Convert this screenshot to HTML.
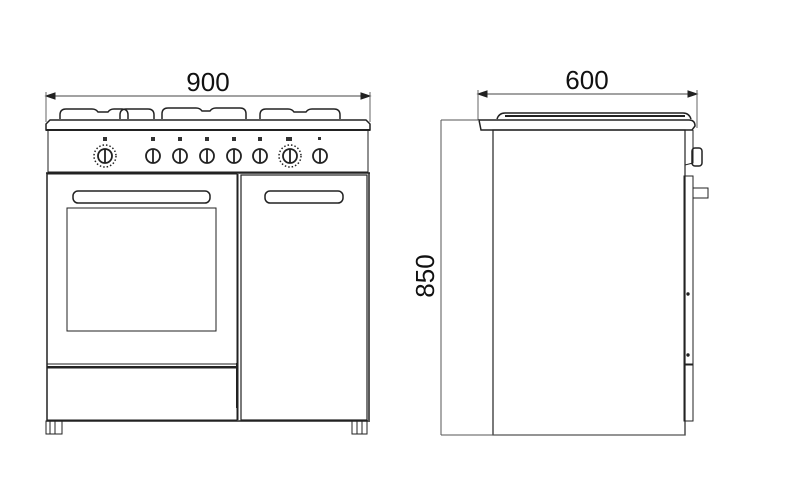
<!DOCTYPE html>
<html><head><meta charset="utf-8"><style>html,body{margin:0;padding:0;background:#fff;width:800px;height:493px;overflow:hidden}</style></head>
<body>
<svg width="800" height="493" viewBox="0 0 800 493" xmlns="http://www.w3.org/2000/svg" fill="none" stroke="#222" stroke-width="1">
<!-- FRONT VIEW -->
<text x="208" y="91" font-family="Liberation Sans, sans-serif" font-size="26" fill="#111" stroke="none" text-anchor="middle">900</text>
<line x1="46" y1="96" x2="370" y2="96" stroke="#444"/>
<path d="M46 96 l9 -3 v6 z M370 96 l-9 -3 v6 z" fill="#222"/>
<line x1="46" y1="92" x2="46" y2="122" stroke="#666"/>
<line x1="370" y1="92" x2="370" y2="122" stroke="#666"/>
<g stroke-width="1.5">
<path d="M60 119 v-4 q0 -6 6 -6 h26 q4 0 6 3 h10 q2 -3 6 -3 h8 q6 0 6 6 v4"/>
<path d="M120 119 v-4 q0 -6 6 -6 h22 q6 0 6 6 v4"/>
<path d="M162 119 v-5 q0 -6 6 -6 h28 q4 0 6 3 h8 q2 -3 6 -3 h24 q6 0 6 6 v5"/>
<path d="M260 119 v-4 q0 -6 6 -6 h22 q4 0 6 3 h12 q2 -3 6 -3 h22 q6 0 6 6 v4"/>
</g>
<path d="M50 120 h316 l4 4 v6 h-324 v-6 z" stroke-width="1.5"/>
<line x1="46" y1="130" x2="370" y2="130" stroke-width="2"/>
<path d="M48 130 v42 h320 v-42"/>
<line x1="46" y1="173" x2="370" y2="173" stroke-width="1.5"/>
<g stroke-width="1.8">
<circle cx="105" cy="156" r="7"/><line x1="105" y1="149" x2="105" y2="163"/>
<circle cx="153" cy="156" r="7"/><line x1="153" y1="149" x2="153" y2="163"/>
<circle cx="180" cy="156" r="7"/><line x1="180" y1="149" x2="180" y2="163"/>
<circle cx="207" cy="156" r="7"/><line x1="207" y1="149" x2="207" y2="163"/>
<circle cx="234" cy="156" r="7"/><line x1="234" y1="149" x2="234" y2="163"/>
<circle cx="260" cy="156" r="7"/><line x1="260" y1="149" x2="260" y2="163"/>
<circle cx="290" cy="156" r="7"/><line x1="290" y1="149" x2="290" y2="163"/>
<circle cx="320" cy="156" r="7"/><line x1="320" y1="149" x2="320" y2="163"/>
</g>
<g stroke-dasharray="1.5 2" stroke-width="1.5">
<circle cx="105" cy="156" r="11"/><circle cx="290" cy="156" r="11"/>
</g>
<g fill="#333" stroke="none">
<rect x="103" y="137" width="4" height="4"/><rect x="151" y="137" width="4" height="4"/><rect x="178" y="137" width="4" height="4"/><rect x="205" y="137" width="4" height="4"/><rect x="232" y="137" width="4" height="4"/><rect x="258" y="137" width="4" height="4"/><rect x="286" y="137" width="6" height="4"/><rect x="318" y="137" width="3" height="3"/>
</g>
<path d="M47 173 v247 M369 173 v247" stroke-width="1.5"/>
<rect x="47" y="174" width="190" height="190"/>
<rect x="73" y="191" width="137" height="12" rx="5" stroke-width="1.5"/>
<rect x="67" y="208" width="149" height="123"/>
<rect x="241" y="175" width="126" height="245" stroke-width="1.2"/>
<line x1="238" y1="174" x2="238" y2="420"/>
<rect x="265" y="191" width="78" height="12" rx="5" stroke-width="1.5"/>
<line x1="47" y1="367" x2="237" y2="367" stroke-width="2"/>
<rect x="47" y="368" width="190" height="52"/>
<line x1="237" y1="363" x2="237" y2="408" stroke-width="2"/>
<line x1="46" y1="421" x2="370" y2="421" stroke-width="1.5"/>
<rect x="46" y="421" width="16" height="13"/><line x1="50" y1="421" x2="50" y2="434"/><line x1="55" y1="421" x2="55" y2="434"/>
<rect x="352" y="421" width="15" height="13"/><line x1="357" y1="421" x2="357" y2="434"/><line x1="362" y1="421" x2="362" y2="434"/>

<!-- SIDE VIEW -->
<text x="587" y="89" font-family="Liberation Sans, sans-serif" font-size="26" fill="#111" stroke="none" text-anchor="middle">600</text>
<line x1="478" y1="94" x2="697" y2="94" stroke="#444"/>
<path d="M478 94 l9 -3 v6 z M697 94 l-9 -3 v6 z" fill="#222"/>
<line x1="478" y1="90" x2="478" y2="120" stroke="#666"/>
<line x1="697" y1="90" x2="697" y2="128" stroke="#666"/>
<line x1="441" y1="120" x2="478" y2="120" stroke="#555"/>
<line x1="441" y1="120" x2="441" y2="435" stroke="#555"/>
<text transform="translate(434 276) rotate(-90)" font-family="Liberation Sans, sans-serif" font-size="26" fill="#111" stroke="none" text-anchor="middle">850</text>
<path d="M497 119 q2 -6 8 -6 h178 q6 0 8 6" stroke-width="1.5"/>
<path d="M505 116 h180" stroke-width="2"/>
<path d="M479 120 h210 q6 0 6 6 l-3 4 h-211 z" stroke-width="1.5"/>
<rect x="493" y="130" width="192" height="305" stroke-width="1.2"/>
<line x1="441" y1="435" x2="685" y2="435" stroke="#555"/>
<path d="M685 130 v35 l8 -2 v-33" />
<rect x="692" y="148" width="10" height="18" rx="3" stroke-width="1.5"/>
<rect x="684" y="176" width="9" height="188"/>
<rect x="693" y="188" width="15" height="10"/>
<rect x="684" y="365" width="9" height="56"/>
<circle cx="688" cy="294" r="1.2" fill="#222"/><circle cx="688" cy="355" r="1.2" fill="#222"/>
</svg>
</body></html>
